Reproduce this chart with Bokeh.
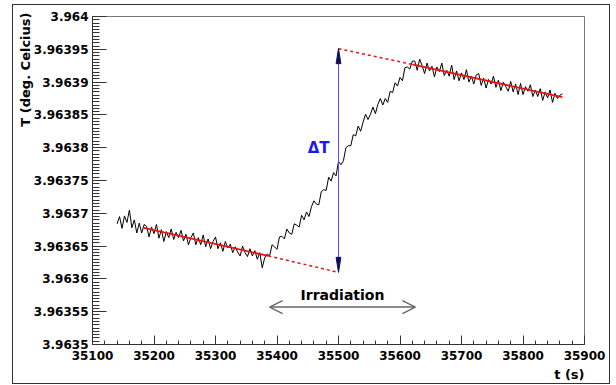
from bokeh.plotting import figure
from bokeh.models import Range1d, FixedTicker, Title, Label, Arrow, OpenHead, CustomJSTickFormatter
from bokeh.embed import file_html
from bokeh.resources import INLINE

# ---------------- data ----------------
t_start = 35140
t_step = 4
T_pre = [3.963684, 3.963695, 3.963677, 3.963696, 3.963686, 3.963705, 3.963678, 3.963690, 3.963670, 3.963685,
         3.963670, 3.963683, 3.963680, 3.963664, 3.963679, 3.963669, 3.963683, 3.963662, 3.963675, 3.963657,
         3.963672, 3.963663, 3.963676, 3.963660, 3.963671, 3.963663, 3.963674, 3.963658, 3.963668, 3.963652,
         3.963663, 3.963670, 3.963652, 3.963663, 3.963652, 3.963667, 3.963649, 3.963661, 3.963646, 3.963657,
         3.963664, 3.963646, 3.963655, 3.963642, 3.963657, 3.963647, 3.963653, 3.963640, 3.963649, 3.963641,
         3.963635, 3.963650, 3.963640, 3.963634, 3.963646, 3.963635, 3.963643, 3.963630, 3.963640, 3.963617,
         3.963632]
T_rise = [3.963638, 3.963635, 3.963652, 3.963649, 3.963645, 3.963664, 3.963665, 3.963661, 3.963676, 3.963670,
          3.963668, 3.963684, 3.963682, 3.963679, 3.963697, 3.963690, 3.963702, 3.963695, 3.963710, 3.963719,
          3.963714, 3.963713, 3.963733, 3.963736, 3.963735, 3.963755, 3.963749, 3.963762, 3.963757, 3.963779,
          3.963774, 3.963780, 3.963800, 3.963803, 3.963803, 3.963820, 3.963818, 3.963833, 3.963825, 3.963839,
          3.963851, 3.963843, 3.963851, 3.963862, 3.963852, 3.963866, 3.963875, 3.963865, 3.963875, 3.963869,
          3.963886, 3.963884, 3.963899, 3.963894, 3.963907, 3.963902, 3.963922, 3.963923, 3.963920, 3.963932]
T_post = [3.963932, 3.963918, 3.963935, 3.963925, 3.963913, 3.963929, 3.963917, 3.963924, 3.963908, 3.963923,
          3.963916, 3.963929, 3.963910, 3.963918, 3.963909, 3.963926, 3.963904, 3.963917, 3.963902, 3.963914,
          3.963904, 3.963919, 3.963900, 3.963909, 3.963897, 3.963911, 3.963913, 3.963895, 3.963906, 3.963891,
          3.963904, 3.963897, 3.963909, 3.963892, 3.963903, 3.963887, 3.963900, 3.963893, 3.963886, 3.963901,
          3.963885, 3.963897, 3.963881, 3.963898, 3.963881, 3.963893, 3.963886, 3.963896, 3.963878, 3.963888,
          3.963878, 3.963890, 3.963872, 3.963885, 3.963876, 3.963888, 3.963869, 3.963883, 3.963875, 3.963880,
          3.963882]
T_values = T_pre + T_rise + T_post
t_values = [t_start + t_step * i for i in range(len(T_values))]

fit_pre_t = [35182, 35386]
fit_pre_T = [3.963678, 3.963635]
ext_pre_t = [35386, 35500]
ext_pre_T = [3.963635, 3.963610]
fit_post_t = [35620, 35864]
fit_post_T = [3.963927, 3.963877]
ext_post_t = [35500, 35620]
ext_post_T = [3.963951, 3.963927]

delta_t = 35500
delta_lo = 3.963610
delta_hi = 3.963951
delta_label_T = 3.963799

irr_t = [35388, 35625]
irr_T = 3.963557
irr_label_T = 3.963575

x_ticks = [35100, 35200, 35300, 35400, 35500, 35600, 35700, 35800, 35900]
x_tick_labels = ["35100", "35200", "35300", "35400", "35500", "35600", "35700", "35800", "35900"]
y_ticks = [3.9635, 3.96355, 3.9636, 3.96365, 3.9637, 3.96375, 3.9638, 3.96385, 3.9639, 3.96395, 3.964]
y_tick_labels = ["3.9635", "3.96355", "3.9636", "3.96365", "3.9637", "3.96375",
                 "3.9638", "3.96385", "3.9639", "3.96395", "3.964"]

FONT = "DejaVu Sans"

# ---------------- figure ----------------
p = figure(frame_width=492, frame_height=328,
           x_range=Range1d(35100, 35900), y_range=Range1d(3.9635, 3.964),
           output_backend="svg", toolbar_location=None,
           min_border_left=79, min_border_right=25, min_border_top=11, min_border_bottom=39)
p.styles = {"margin-left": "13px", "margin-top": "5px", "outline": "1px solid #333333"}
p.background_fill_color = "white"
p.border_fill_color = "white"
p.outline_line_color = "#777777"
p.outline_line_width = 1
p.xgrid.visible = False
p.ygrid.visible = False

x_minor = [35100 + 20 * i for i in range(41)]
y_minor = [3.9635 + 0.000005 * i for i in range(101)]
p.xaxis.ticker = FixedTicker(ticks=x_ticks, minor_ticks=x_minor)
p.yaxis.ticker = FixedTicker(ticks=y_ticks, minor_ticks=y_minor)
p.xaxis.formatter = CustomJSTickFormatter(args=dict(tv=x_ticks, lab=x_tick_labels), code="""
const i = tv.findIndex(v => Math.abs(v - tick) < 1e-6); return i >= 0 ? lab[i] : "";""")
p.yaxis.formatter = CustomJSTickFormatter(args=dict(tv=y_ticks, lab=y_tick_labels), code="""
const i = tv.findIndex(v => Math.abs(v - tick) < 1e-9); return i >= 0 ? lab[i] : "";""")

for ax in (p.xaxis[0], p.yaxis[0]):
    ax.major_tick_out = 0
    ax.minor_tick_out = 0
    ax.axis_line_color = "#333333"
    ax.major_tick_line_color = "#333333"
    ax.minor_tick_line_color = "#333333"
    ax.major_label_text_font = FONT
    ax.major_label_text_font_style = "bold"
    ax.major_label_text_font_size = "12px"
    ax.major_label_text_color = "black"
p.yaxis.major_tick_in = 14
p.yaxis.minor_tick_in = 7
p.xaxis.major_tick_in = 9
p.xaxis.minor_tick_in = 4
p.yaxis.major_label_standoff = 4
p.xaxis.major_label_standoff = 6

p.add_layout(Title(text="T (deg. Celcius)", align="right", text_font=FONT, text_font_size="13px",
                   text_font_style="bold", standoff=-5, offset=-4, text_color="black"), "left")
p.add_layout(Title(text="t (s)", align="right", text_font=FONT, text_font_size="13px",
                   text_font_style="bold", standoff=4, text_color="black"), "below")

# ---------------- data marks ----------------
p.line(t_values, T_values, line_color="black", line_width=1)

p.line(fit_pre_t, fit_pre_T, line_color="#ee1111", line_width=1.8)
p.line(fit_post_t, fit_post_T, line_color="#ee1111", line_width=1.8)
p.line(ext_pre_t, ext_pre_T, line_color="#ee1111", line_width=1.5, line_dash="3 3")
p.line(ext_post_t, ext_post_T, line_color="#ee1111", line_width=1.5, line_dash="3 3")

# Delta T arrow
p.line([delta_t, delta_t], [delta_lo, delta_hi], line_color="#5050ff", line_width=1)
sx = 800 / 492.0          # seconds per pixel
sy = 0.0005 / 328.0       # degrees per pixel
hw = 2.4 * sx
hl = 15 * sy
p.patches([[delta_t, delta_t - hw, delta_t + hw], [delta_t, delta_t - hw, delta_t + hw]],
          [[delta_hi, delta_hi - hl, delta_hi - hl], [delta_lo, delta_lo + hl, delta_lo + hl]],
          fill_color="#10105a", line_color="#10105a", line_width=1)

p.add_layout(Label(x=delta_t, y=delta_label_T, x_offset=-9, text="\u0394T", text_align="right",
                   text_baseline="middle", text_color="#1a1aee", text_font=FONT,
                   text_font_size="15px", text_font_style="bold"))

# Irradiation arrow
p.add_layout(Arrow(start=OpenHead(size=13, line_color="#666666", line_width=1.3),
                   end=OpenHead(size=13, line_color="#666666", line_width=1.3),
                   x_start=irr_t[0], y_start=irr_T, x_end=irr_t[1], y_end=irr_T,
                   line_color="#666666", line_width=1.5))
p.add_layout(Label(x=(irr_t[0] + irr_t[1]) / 2, y=irr_label_T, text="Irradiation", text_align="center",
                   text_baseline="middle", text_color="black", text_font=FONT,
                   text_font_size="14px", text_font_style="bold"))

open("out.html", "w").write(file_html(p, INLINE))
